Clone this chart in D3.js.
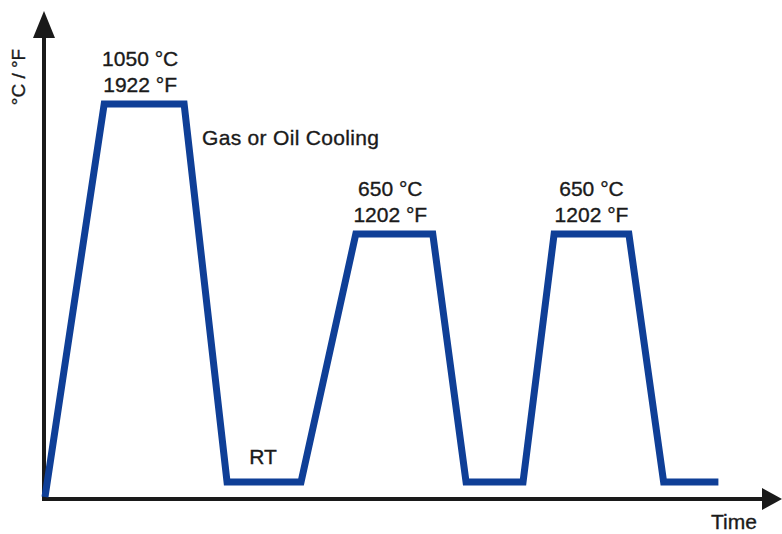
<!DOCTYPE html>
<html>
<head>
    <script src="https://cdnjs.cloudflare.com/ajax/libs/d3/7.8.5/d3.min.js"></script>
    <style>
        body { margin: 0; background: #fff; }
        text {
            font-family: "Liberation Sans", Arial, sans-serif;
            font-size: 21px;
            fill: #1a1a1a;
            stroke: #1a1a1a;
            stroke-width: 0.35px;
        }
        .axis { stroke: #1a1a1a; stroke-width: 4px; }
        .cycle {
            fill: none;
            stroke: #0f3f97;
            stroke-width: 7px;
            stroke-linejoin: miter;
        }
    </style>
</head>
<body>
    <div id="chart"></div>
    <script>
        const width = 782, height = 534;

        // schematic heat treatment cycle (time in arbitrary units, temp in °C)
        const times = [0, 8, 18.8, 24.6, 34.6, 42, 52.4, 56.9, 64.6, 68.8, 78.9, 83.6, 91];
        const temps = [0, 1050, 1050, 25, 25, 650, 650, 25, 25, 650, 650, 25, 25];

        // plateau labels
        const holdStart = [8, 42, 68.8];
        const holdEnd = [18.8, 52.4, 78.9];
        const holdTemp = [1050, 650, 650];
        const holdC = ["1050 °C", "650 °C", "650 °C"];
        const holdF = ["1922 °F", "1202 °F", "1202 °F"];

        const svg = d3.select("#chart").append("svg")
            .attr("width", width).attr("height", height);

        const x = d3.scaleLinear().domain([0, 100]).range([45, 785]);
        // not to scale: schematic levels
        const y = d3.scaleLinear().domain([0, 25, 650, 1050]).range([497, 482, 234, 104]);

        // axes with arrowheads
        const ox = 44, oy = 499;
        svg.append("line").attr("class", "axis")
            .attr("x1", ox).attr("y1", oy + 2).attr("x2", ox).attr("y2", 36);
        svg.append("path").attr("fill", "#1a1a1a")
            .attr("d", `M${ox},11 L${ox + 11},38 L${ox - 11},38 Z`);
        svg.append("line").attr("class", "axis")
            .attr("x1", ox - 2).attr("y1", oy).attr("x2", 765).attr("y2", oy);
        svg.append("path").attr("fill", "#1a1a1a")
            .attr("d", `M782,${oy} L762,${oy - 11} L762,${oy + 11} Z`);

        const pts = times.map((t, i) => [t, temps[i]]);
        const line = d3.line().x(d => x(d[0])).y(d => y(d[1]));
        svg.append("path").attr("class", "cycle").attr("d", line(pts));

        holdStart.forEach((s, i) => {
            // first two labels sit a little left of their plateau
            const cx = (x(s) + x(holdEnd[i])) / 2 - (i < 2 ? 4 : 0);
            const ty = y(holdTemp[i]);
            svg.append("text").attr("x", cx).attr("y", ty - 38)
                .attr("text-anchor", "middle").text(holdC[i]);
            svg.append("text").attr("x", cx).attr("y", ty - 12)
                .attr("text-anchor", "middle").text(holdF[i]);
        });

        svg.append("text").attr("x", 202).attr("y", 145)
            .attr("textLength", 177).text("Gas or Oil Cooling");
        svg.append("text").attr("x", (x(24.6) + x(34.6)) / 2 - 1).attr("y", 464)
            .attr("text-anchor", "middle").text("RT");
        svg.append("text").attr("x", 734).attr("y", 529)
            .attr("text-anchor", "middle").text("Time");
        svg.append("text")
            .attr("transform", "translate(25,77) rotate(-90)")
            .attr("text-anchor", "middle")
            .style("font-size", "19px").text("°C / °F");
    </script>
</body>
</html>
